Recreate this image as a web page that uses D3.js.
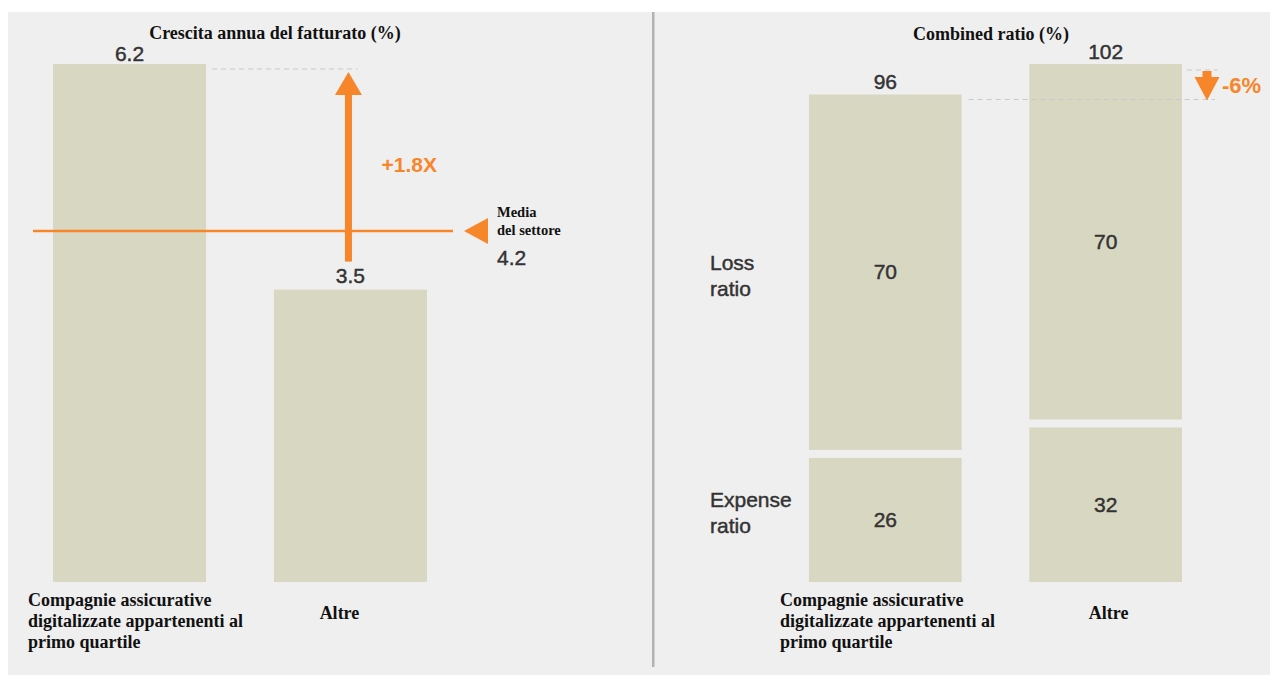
<!DOCTYPE html>
<html>
<head>
<meta charset="utf-8">
<script src="https://cdn.jsdelivr.net/npm/d3@7"></script>
<style>
  html, body { margin: 0; padding: 0; background: #ffffff; }
  svg { display: block; }
  .serif { font-family: "Liberation Serif", "Times New Roman", serif; font-weight: bold; fill: #111; }
  .num { font-family: "Liberation Sans", Arial, sans-serif; fill: #333; stroke: #333; stroke-width: 0.45px; }
  .accent { font-family: "Liberation Sans", Arial, sans-serif; font-weight: bold; fill: #f7862a; }
</style>
</head>
<body>
<svg id="chart" width="1275" height="683"></svg>
<script>
// Categories shared by both panels (each label is split over lines)
const categories = ["Compagnie assicurative digitalizzate appartenenti al primo quartile", "Altre"];
const categoryLines = [["Compagnie assicurative", "digitalizzate appartenenti al", "primo quartile"], ["Altre"]];

// Left panel: annual revenue growth (%)
const growthTitle = "Crescita annua del fatturato (%)";
const growthValues = [6.2, 3.5];
const sectorAverage = 4.2;
const sectorLabel = ["Media", "del settore"];
const growthMultipleLabel = "+1.8X";

// Right panel: combined ratio (%) = loss ratio + expense ratio
const ratioTitle = "Combined ratio (%)";
const lossRatio = [70, 70];
const expenseRatio = [26, 32];
const combinedRatio = [96, 102];
const ratioRowLabels = [["Loss", "ratio"], ["Expense", "ratio"]];
const ratioDeltaLabel = "-6%";

const BAR = "#d8d7c2";
const ORANGE = "#f7862a";
const DASH = "#c9c9c9";

const svg = d3.select("#chart");

// Panel background and separator
svg.append("rect").attr("x", 8).attr("y", 12).attr("width", 1262).attr("height", 663).attr("fill", "#efefef");
svg.append("rect").attr("x", 652).attr("y", 12).attr("width", 2.5).attr("height", 655).attr("fill", "#b3b3b3");

const baseY = 582;

// ---------- Left panel ----------
const xL = d3.scaleBand().domain(categories).range([53, 427]).paddingInner(0.307).paddingOuter(0);
const yL = d3.scaleLinear().domain([0, 6.2]).range([baseY, 64]);
const gL = svg.append("g");

gL.append("text").attr("class", "serif").attr("x", 275).attr("y", 39)
  .attr("text-anchor", "middle").style("font-size", "18px").text(growthTitle);

gL.selectAll("rect.bar").data(growthValues).join("rect")
  .attr("class", "bar")
  .attr("x", (d, i) => xL(categories[i]))
  .attr("width", xL.bandwidth())
  .attr("y", d => yL(d))
  .attr("height", d => baseY - yL(d))
  .attr("fill", BAR);

gL.selectAll("text.val").data(growthValues).join("text")
  .attr("class", "num val")
  .attr("x", (d, i) => xL(categories[i]) + xL.bandwidth() / 2)
  .attr("y", (d, i) => yL(d) - (i === 0 ? 3 : 7))
  .attr("text-anchor", "middle").style("font-size", "21px")
  .text(d => d3.format(".1f")(d));

// dashed guide from the top of the first bar
const topY = yL(growthValues[0]);
const arrowX = xL(categories[1]) + xL.bandwidth() / 2 - 2;
gL.append("line").attr("x1", xL(categories[0]) + xL.bandwidth() + 6).attr("x2", arrowX + 9)
  .attr("y1", topY + 5).attr("y2", topY + 5)
  .attr("stroke", DASH).attr("stroke-width", 1).attr("stroke-dasharray", "5,4");

// sector average line and pointer
const avgY = yL(sectorAverage);
gL.append("line").attr("x1", 33).attr("x2", 453).attr("y1", avgY).attr("y2", avgY)
  .attr("stroke", ORANGE).attr("stroke-width", 2.5);
gL.append("path")
  .attr("d", `M464,${avgY} L488,${avgY - 13} L488,${avgY + 13} Z`)
  .attr("fill", ORANGE);
gL.selectAll("text.avg").data(sectorLabel).join("text")
  .attr("class", "serif avg")
  .attr("x", 497).attr("y", (d, i) => avgY - 14 + i * 18)
  .style("font-size", "14.5px").text(d => d);
gL.append("text").attr("class", "num").attr("x", 497).attr("y", avgY + 34)
  .style("font-size", "21px").text(d3.format(".1f")(sectorAverage));

// growth arrow from the second bar up to the first bar's level
const arrowBottom = yL(growthValues[1]) - 28;
const headTip = topY + 8;
gL.append("rect").attr("x", arrowX - 3.5).attr("width", 7)
  .attr("y", headTip + 20).attr("height", arrowBottom - headTip - 20).attr("fill", ORANGE);
gL.append("path")
  .attr("d", `M${arrowX},${headTip} L${arrowX + 13.5},${headTip + 23} L${arrowX - 13.5},${headTip + 23} Z`)
  .attr("fill", ORANGE);
gL.append("text").attr("class", "accent").attr("x", arrowX + 33).attr("y", 172)
  .style("font-size", "21px").text(growthMultipleLabel);

// category labels
function drawCategoryLabels(g, x, offsets) {
  g.append("text").attr("class", "serif").style("font-size", "18px")
    .selectAll("tspan").data(categoryLines[0]).join("tspan")
    .attr("x", x(categories[0]) + offsets[0]).attr("y", (d, i) => 606 + i * 21)
    .text(d => d);
  g.append("text").attr("class", "serif").style("font-size", "18px")
    .attr("x", x(categories[1]) + x.bandwidth() / 2 + offsets[1]).attr("y", 619)
    .attr("text-anchor", "middle").text(categoryLines[1][0]);
}
drawCategoryLabels(gL, xL, [-25, -11]);

// ---------- Right panel ----------
const xR = d3.scaleBand().domain(categories).range([809, 1182]).paddingInner(0.307).paddingOuter(0);
const yR = d3.scaleLinear().domain([0, 102]).range([baseY, 64]);
const gR = svg.append("g");
const gap = 8;

gR.append("text").attr("class", "serif").attr("x", 991).attr("y", 40)
  .attr("text-anchor", "middle").style("font-size", "18px").text(ratioTitle);

const stacks = categories.map((c, i) => ({
  cat: c, loss: lossRatio[i], expense: expenseRatio[i], total: combinedRatio[i]
}));

// loss ratio segments (upper)
gR.selectAll("rect.loss").data(stacks).join("rect")
  .attr("class", "loss")
  .attr("x", d => xR(d.cat)).attr("width", xR.bandwidth())
  .attr("y", d => yR(d.expense + d.loss))
  .attr("height", d => yR(d.expense) - yR(d.expense + d.loss))
  .attr("fill", BAR);
// expense ratio segments (lower)
gR.selectAll("rect.exp").data(stacks).join("rect")
  .attr("class", "exp")
  .attr("x", d => xR(d.cat)).attr("width", xR.bandwidth())
  .attr("y", d => yR(d.expense) + gap)
  .attr("height", d => yR(0) - yR(d.expense) - gap)
  .attr("fill", BAR);

gR.selectAll("text.lossv").data(stacks).join("text")
  .attr("class", "num lossv")
  .attr("x", d => xR(d.cat) + xR.bandwidth() / 2)
  .attr("y", d => (yR(d.expense + d.loss) + yR(d.expense)) / 2 + 7)
  .attr("text-anchor", "middle").style("font-size", "21px").text(d => d.loss);
gR.selectAll("text.expv").data(stacks).join("text")
  .attr("class", "num expv")
  .attr("x", d => xR(d.cat) + xR.bandwidth() / 2)
  .attr("y", d => (yR(d.expense) + gap + yR(0)) / 2 + 7)
  .attr("text-anchor", "middle").style("font-size", "21px").text(d => d.expense);
gR.selectAll("text.tot").data(stacks).join("text")
  .attr("class", "num tot")
  .attr("x", d => xR(d.cat) + xR.bandwidth() / 2)
  .attr("y", d => yR(d.total) - 5)
  .attr("text-anchor", "middle").style("font-size", "21px").text(d => d.total);

// row labels beside the first stack
const s0 = stacks[0];
const lossMid = (yR(s0.total) + yR(s0.expense)) / 2;
const expMid = (yR(s0.expense) + gap + yR(0)) / 2;
[[lossMid - 2, ratioRowLabels[0]], [expMid - 13, ratioRowLabels[1]]].forEach(([y0, lines]) => {
  gR.append("text").attr("class", "num").style("font-size", "21px")
    .selectAll("tspan").data(lines).join("tspan")
    .attr("x", 710).attr("y", (d, i) => y0 + i * 26).text(d => d);
});

// dashed guides at both totals and the delta arrow
const yA = yR(combinedRatio[0]), yB = yR(combinedRatio[1]);
gR.append("line").attr("x1", xR(categories[0]) + xR.bandwidth() + 7).attr("x2", 1215)
  .attr("y1", yA + 5).attr("y2", yA + 5)
  .attr("stroke", DASH).attr("stroke-width", 1).attr("stroke-dasharray", "5,4");
gR.append("line").attr("x1", xR(categories[1]) + xR.bandwidth() + 5).attr("x2", 1218)
  .attr("y1", yB + 6).attr("y2", yB + 6)
  .attr("stroke", DASH).attr("stroke-width", 1).attr("stroke-dasharray", "5,4");
const ax = 1207;
gR.append("rect").attr("x", ax - 4.5).attr("width", 9).attr("y", yB + 7).attr("height", 7).attr("fill", ORANGE);
gR.append("path")
  .attr("d", `M${ax - 12.5},${yB + 13} L${ax + 12.5},${yB + 13} L${ax},${yA + 6} Z`)
  .attr("fill", ORANGE);
gR.append("text").attr("class", "accent").attr("x", 1222).attr("y", 93)
  .style("font-size", "22px").text(ratioDeltaLabel);

drawCategoryLabels(gR, xR, [-29, 3]);
</script>
</body>
</html>
